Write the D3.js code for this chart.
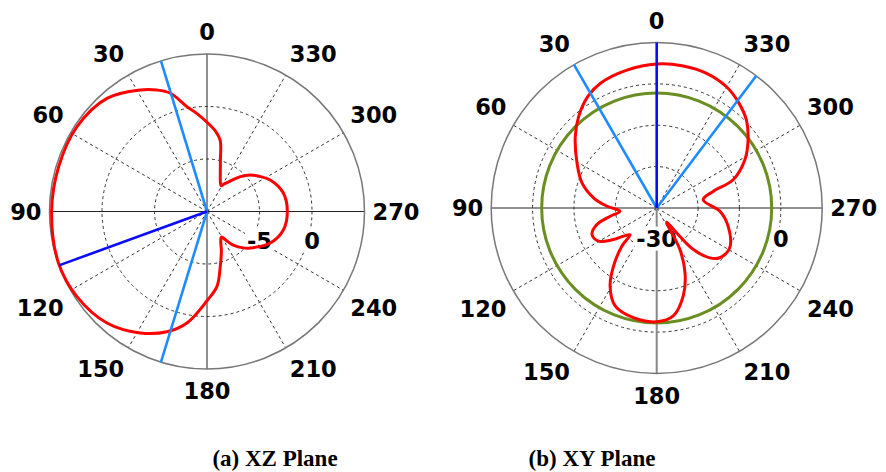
<!DOCTYPE html>
<html>
<head>
<meta charset="utf-8">
<script src="https://cdn.jsdelivr.net/npm/d3@7"></script>
<style>
  html, body { margin: 0; padding: 0; background: #fff; }
  svg { display: block; }
</style>
</head>
<body>
<svg id="chart" width="886" height="472"></svg>
<script>
// Angle tick labels (degrees, counter-clockwise from the top)
const angleTicks = [0, 30, 60, 90, 120, 150, 180, 210, 240, 270, 300, 330];

// (a) XZ plane: gain in dB
const xzAngles = [0, 6, 10.8, 17.2, 22.4, 28.8, 41.5, 56.9, 73.2, 90, 109.1, 123.2, 138.1, 151.2, 161.6, 169.8, 180,
                  187.6, 193.5, 200, 205, 209.5, 214, 218, 225, 230, 243.5, 256.4, 270,
                  283.6, 296.5, 304, 310, 316.3, 323, 328, 331, 334.7, 340, 345.5, 349.5, 354];
const xzGain   = [-1.5, -0.6, 0.16, 1.79, 2.51, 3.2, 4.38, 4.78, 4.76, 4.8, 4.97, 4.8, 4.27, 3.2, 2.07, 0.79, -1.5,
                  -2.8, -4.6, -6.0, -6.9, -7.2, -6.6, -5.94, -5.1, -4.6, -3.27, -2.52, -2.35,
                  -2.52, -3.27, -4.0, -4.6, -5.4, -6.4, -6.9, -7.2, -7.0, -6.3, -4.9, -3.1, -2.3];
const xzRings = [-10, -5, 0, 5];
const xzRingLabels = [-5, 0];
const xzPeakAngle = 110;
const xzHalfPowerAngles = [17, 163];

// (b) XY plane: gain in dB
const xyAngles = [0, 12.2, 24.1, 31.8, 40.5, 48.7, 60.6, 71.6, 81, 88, 95.2, 100, 105.5, 112.3, 119.7, 126.2, 135,
                  137.6, 143.4, 149.2, 157, 168, 180, 188.7, 196.8, 203.6, 209.2, 214.9, 218.7, 221.4, 226.8,
                  231.7, 241.4, 255.7, 267, 280.1, 286.4, 290.3, 298.7, 306.7, 314.5, 322.6, 330.1, 339.7, 349.4];
const xyGain   = [4.8, 4.1, 3.1, 1.65, -0.95, -3.8, -7.9, -11, -14.6, -18, -21.1, -18.6, -15, -13.1, -13.8, -17.1, -20.9,
                  -17.5, -12.5, -8, -4.3, -2.9, -2.5, -3.6, -7.8, -12.9, -18.5, -25.8, -22.3, -16.6, -12.4,
                  -10.6, -9.9, -12.2, -14.7, -18.6, -15.8, -10.3, -5.7, -2.45, 0.39, 2.37, 3.8, 4.7, 4.9];
const xyRings = [-30, -20, -10, 0, 10];
const xyRingLabels = [-30, 0];
const xyPeakAngle = 0;
const xyHalfPowerAngles = [30, 323];
const xyReferenceGain = -2.2;

const captions = ["(a) XZ Plane", "(b) XY Plane"];

const svg = d3.select("#chart");
const rad = d => d * Math.PI / 180;
const tickFont = 22.5;

function polarPlot(opt) {
  const g = svg.append("g").attr("transform", `translate(${opt.cx},${opt.cy})`);
  const R = opt.radius;
  const r = d3.scaleLinear().domain(d3.extent(opt.rings)).range([0, R]);
  // screen point for an angle measured counter-clockwise from the top
  const pt = (deg, rr) => [-rr * Math.sin(rad(deg)), -rr * Math.cos(rad(deg))];

  // dashed inner rings
  g.selectAll(".ring").data(opt.rings.slice(1, -1)).join("circle")
    .attr("r", d => r(d)).attr("fill", "none")
    .attr("stroke", "#333").attr("stroke-width", 1).attr("stroke-dasharray", "3,3");

  // dashed spokes
  g.selectAll(".spoke").data(angleTicks.filter(a => a % 90 !== 0)).join("line")
    .attr("x1", 0).attr("y1", 0)
    .attr("x2", d => pt(d, R)[0]).attr("y2", d => pt(d, R)[1])
    .attr("stroke", "#333").attr("stroke-width", 1).attr("stroke-dasharray", "3,3");

  // solid axes
  g.append("line").attr("x1", -R).attr("x2", R).attr("y1", 0).attr("y2", 0)
    .attr("stroke", "#222").attr("stroke-width", 1);
  g.append("line").attr("x1", 0).attr("x2", 0).attr("y1", -R).attr("y2", 0)
    .attr("stroke", "#222").attr("stroke-width", 1);
  g.append("line").attr("x1", 0).attr("x2", 0).attr("y1", 0).attr("y2", R)
    .attr("stroke", opt.lowerAxis).attr("stroke-width", opt.lowerAxisWidth);

  // outer boundary
  g.append("circle").attr("r", R).attr("fill", "none")
    .attr("stroke", "#777").attr("stroke-width", 1.5);

  // angle labels, pushed outwards by half their box
  const labels = g.selectAll(".ang").data(angleTicks).join("text")
    .attr("font-family", "'DejaVu Sans', Verdana, sans-serif")
    .attr("font-weight", "bold").attr("font-size", tickFont)
    .attr("text-anchor", "middle").attr("fill", "#000")
    .text(d => d);
  labels.each(function (d) {
    const w = this.getComputedTextLength();
    const h = 28;
    const ux = -Math.sin(rad(d)), uy = -Math.cos(rad(d));
    const sx = Math.abs(ux) < 0.01 ? 0 : Math.sign(ux);
    const sy = Math.abs(uy) < 0.01 ? 0 : Math.sign(uy);
    const x = ux * (R + 8) + sx * w / 2;
    const y = uy * (R + 8) + sy * h / 2;
    d3.select(this).attr("x", x).attr("y", y + 0.365 * tickFont);
  });

  // ring value labels on a white backing
  const ringY = 0.185 * R;
  opt.ringLabels.forEach(v => {
    const t = g.append("text")
      .attr("font-family", "'DejaVu Sans', Verdana, sans-serif")
      .attr("font-weight", "bold").attr("font-size", tickFont)
      .attr("text-anchor", "middle").attr("fill", "#000")
      .attr("x", r(v)).attr("y", ringY + 0.365 * tickFont).text(v);
    const w = t.node().getComputedTextLength();
    g.insert("rect", () => t.node())
      .attr("x", r(v) - w / 2 - 2).attr("y", ringY - 12)
      .attr("width", w + 4).attr("height", 24).attr("fill", "#fff");
  });

  // reference circle
  if (opt.reference !== undefined) {
    g.append("circle").attr("r", r(opt.reference)).attr("fill", "none")
      .attr("stroke", "#6b8e23").attr("stroke-width", 3);
  }

  // measured pattern
  const pts = opt.angles.map((a, i) => ({ a, v: opt.gain[i] }));
  const line = d3.lineRadial()
    .angle(d => -rad(d.a))
    .radius(d => r(d.v))
    .curve(d3.curveCatmullRomClosed.alpha(0.5));
  g.append("path").datum(pts).attr("d", line)
    .attr("fill", "none").attr("stroke", "#ff0000").attr("stroke-width", 3)
    .attr("stroke-linejoin", "round");

  // half-power directions
  opt.halfPower.forEach(a => {
    const [x, y] = pt(a, R);
    g.append("line").attr("x1", 0).attr("y1", 0).attr("x2", x).attr("y2", y)
      .attr("stroke", "#1e8cff").attr("stroke-width", 2.6);
  });
  // peak direction
  const [px, py] = pt(opt.peak, R);
  g.append("line").attr("x1", 0).attr("y1", 0).attr("x2", px).attr("y2", py)
    .attr("stroke", "#0a0aff").attr("stroke-width", 2.6);

  // caption
  svg.append("text")
    .attr("x", opt.captionX).attr("y", 466)
    .attr("font-family", "'Liberation Serif', 'Times New Roman', serif")
    .attr("font-weight", "bold").attr("font-size", 23)
    .attr("text-anchor", "middle").attr("fill", "#000")
    .text(opt.caption);
}

polarPlot({
  cx: 207, cy: 211.5, radius: 157.5,
  rings: xzRings, ringLabels: xzRingLabels,
  angles: xzAngles, gain: xzGain,
  peak: xzPeakAngle, halfPower: xzHalfPowerAngles,
  lowerAxis: "#222", lowerAxisWidth: 1,
  caption: captions[0], captionX: 275
});

polarPlot({
  cx: 656.7, cy: 208, radius: 165.5,
  rings: xyRings, ringLabels: xyRingLabels,
  angles: xyAngles, gain: xyGain,
  peak: xyPeakAngle, halfPower: xyHalfPowerAngles,
  reference: xyReferenceGain,
  lowerAxis: "#888", lowerAxisWidth: 2,
  caption: captions[1], captionX: 592
});
</script>
</body>
</html>
